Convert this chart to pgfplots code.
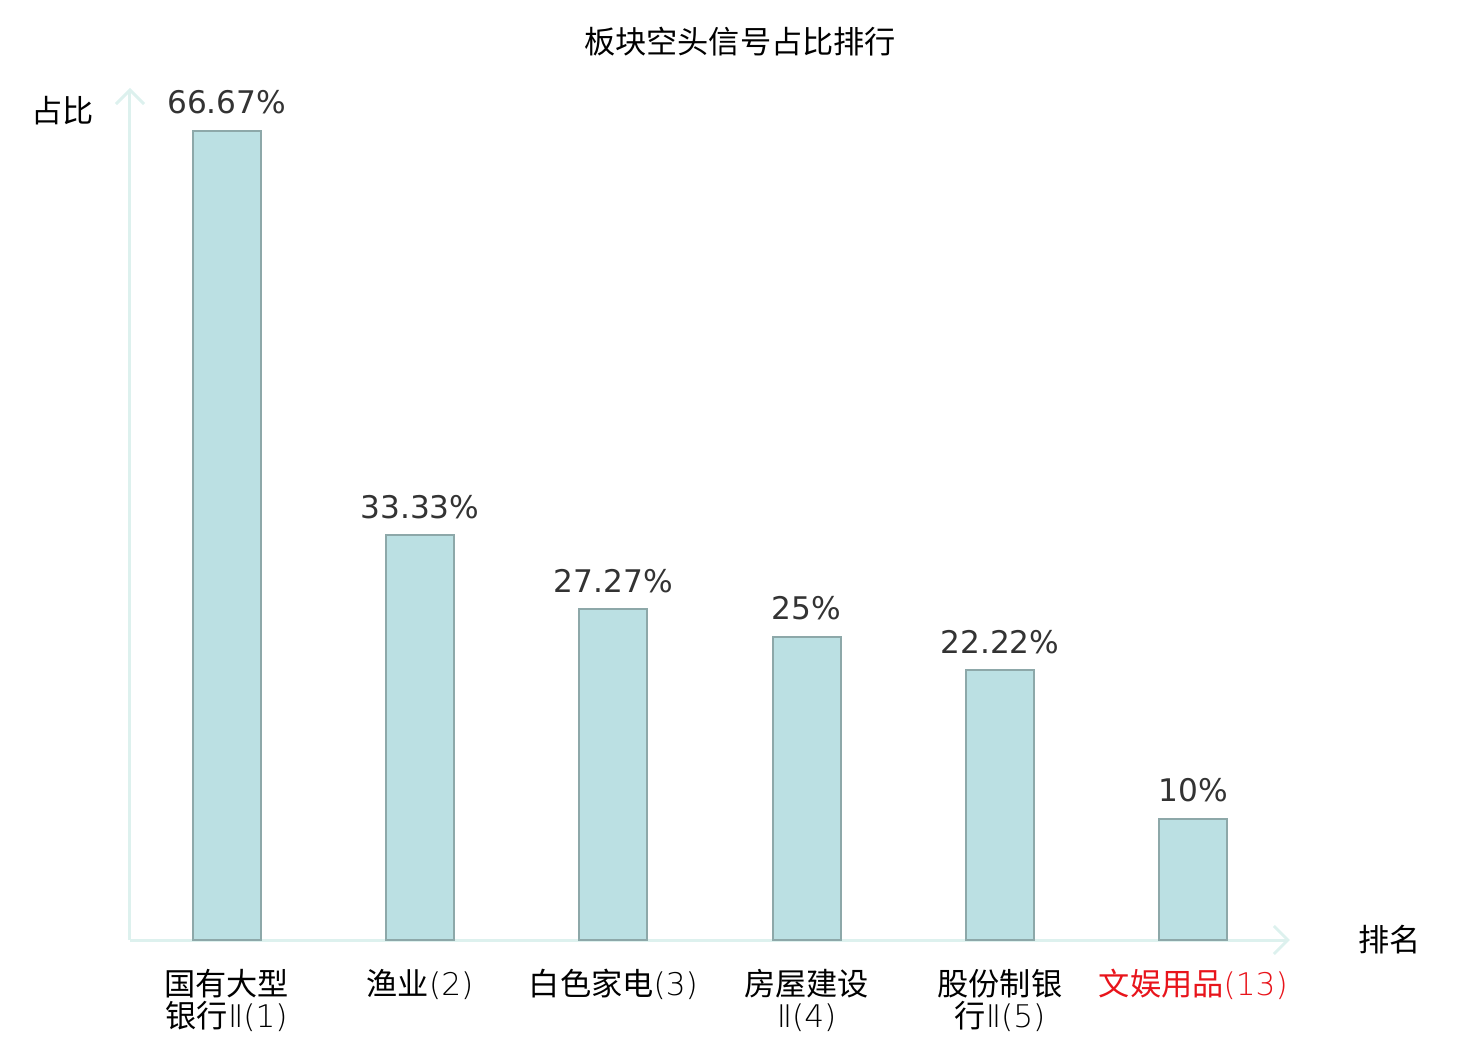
\documentclass[border=0pt]{standalone}
\usepackage{pgfplots}
\pgfplotsset{compat=1.18}
\usepackage{fontspec}
\setmainfont{DejaVu Sans}
\newfontfamily\cjk{Noto Sans CJK SC}
\newfontfamily\thin{DejaVu Sans ExtraLight}
\usetikzlibrary{arrows.meta}
\definecolor{barfill}{HTML}{BBE0E3}
\definecolor{baredge}{HTML}{8DA8A9}
\definecolor{axcol}{HTML}{DDF1EE}
\definecolor{valcol}{HTML}{333333}
\definecolor{redlab}{HTML}{E8141B}
\newcommand{\tn}[1]{{\thin #1}}
\begin{document}
\begin{tikzpicture}
\useasboundingbox (-65pt,-50pt) rectangle (675pt,470pt);
\begin{axis}[
  at={(0,0)}, anchor=south west,
  scale only axis, width=580pt, height=426pt,
  xmin=-0.5, xmax=5.5, ymin=0, ymax=70.2,
  axis lines=left,
  x axis line style={draw=axcol, line width=1.5pt, -{Straight Barb[length=7pt,width=14pt,line width=1.5pt]}},
  y axis line style={draw=axcol, line width=1.5pt, -{Straight Barb[length=7pt,width=14pt,line width=1.5pt]}},
  xtick={0,1,2,3,4,5},
  xticklabels={{国有大型\\银行\tn{Ⅱ(1)}},{渔业\tn{(2)}},{白色家电\tn{(3)}},{房屋建设\\\tn{Ⅱ(4)}},{股份制银\\行\tn{Ⅱ(5)}},{\color{redlab}文娱用品\tn{(13)}}},
  xticklabel style={font=\cjk\fontsize{15.6}{16}\selectfont, align=center, anchor=north, yshift=-9pt},
  xtick style={draw=none},
  ytick=\empty,
  clip=false,
  /pgf/number format/assume math mode=true,
  nodes near coords={\pgfmathprintnumber{\pgfplotspointmeta}\%},
  every node near coord/.append style={font=\fontsize{15.6}{18}\selectfont, text=valcol, anchor=base, yshift=8.5pt, inner sep=0pt},
]
\addplot[ybar, bar width=34pt, fill=barfill, draw=baredge, line width=1pt] coordinates {
  (0,66.67) (1,33.33) (2,27.27) (3,25) (4,22.22) (5,10)
};
\node[font=\cjk\fontsize{15.6}{18}\selectfont] at (rel axis cs:1.086,0) {排名};
\node[font=\cjk\fontsize{15.6}{18}\selectfont] at (rel axis cs:-0.058,0.974) {占比};
\node[font=\cjk\fontsize{15.6}{18}\selectfont] at (rel axis cs:0.526,1.054) {板块空头信号占比排行};
\end{axis}
\end{tikzpicture}
\end{document}
